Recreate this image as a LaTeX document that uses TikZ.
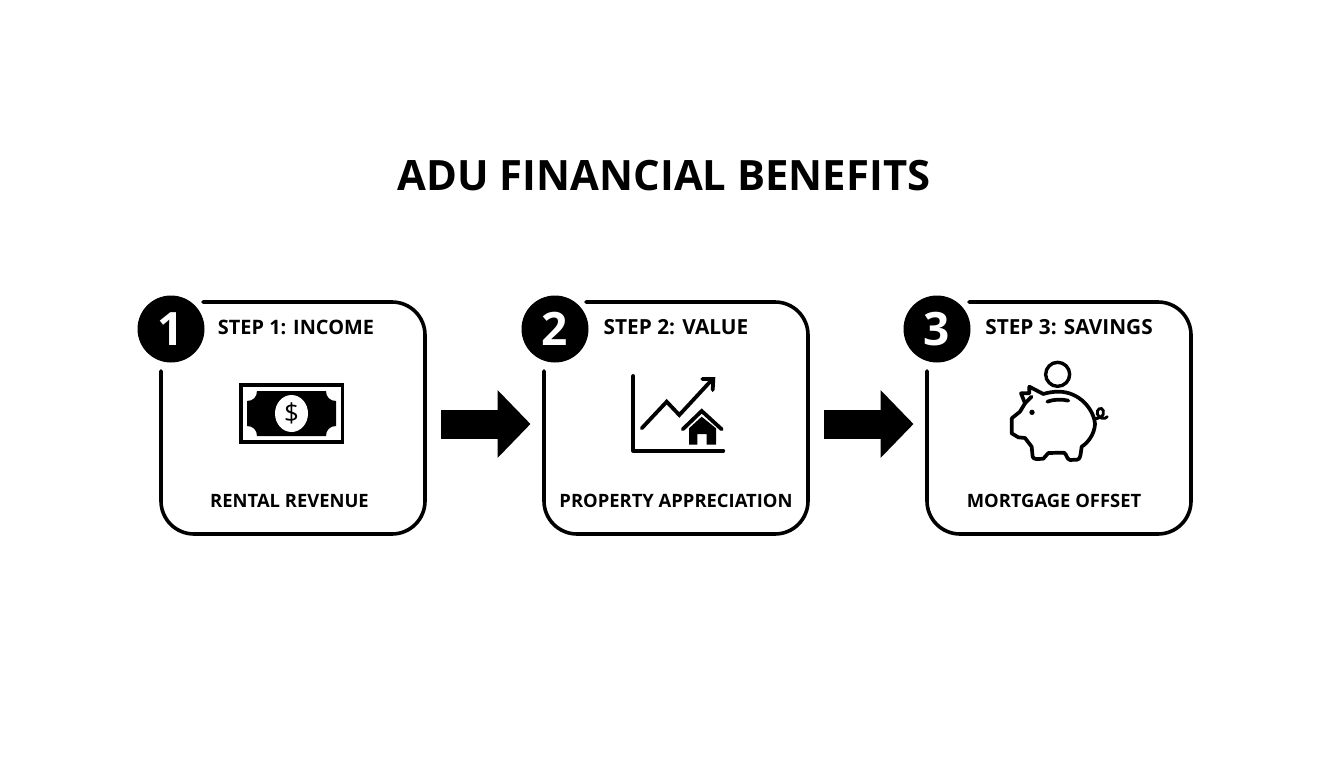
\documentclass[tikz,border=0pt]{standalone}
\usepackage{fontspec}
\setmainfont{Open Sans}
\usetikzlibrary{arrows.meta}
\tikzset{
  cardline/.style={line width=3.6pt,line cap=round,black,rounded corners=33pt},
  badge/.style={circle,fill=black,text=white,minimum size=67pt,inner sep=0pt,font=\fontsize{46}{46}\selectfont\bfseries},
  steptext/.style={font=\fontsize{20.8}{20.8}\selectfont\bfseries,inner sep=0pt,text=black},
  labeltext/.style={font=\fontsize{18.4}{18.4}\selectfont\bfseries,inner sep=0pt,text=black},
  titletext/.style={font=\fontsize{41.8}{41.8}\selectfont\bfseries,inner sep=0pt,text=black},
  blockarrow/.style={line width=29pt,black,-{Triangle[length=33pt,width=66pt]}},
  iconline/.style={line width=3.8pt,black,line cap=round},
  pigline/.style={line width=3.7pt,black,line cap=round,line join=round},
}
\newcommand{\cardpath}[1]{%
  \draw[cardline] (#1+42,302) -- (#1+264,302) -- (#1+264,534) -- (#1,534) -- (#1,371);}
\begin{document}
\begin{tikzpicture}[x=1pt,y=-1pt]
\useasboundingbox (0,0) rectangle (1344,768);
\fill[white] (0,0) rectangle (1344,768);
\node[titletext] (title) at (664,176) {ADU FINANCIAL BENEFITS};
% cards
\cardpath{161}\cardpath{544}\cardpath{927}
\node[badge] (b1) at (171,329) {1};
\node[badge] (b2) at (555,329) {2};
\node[badge] (b3) at (937,329) {3};
\node[steptext,font=\fontsize{19.9}{19.9}\selectfont\bfseries] (s1) at (296,327.5) {STEP 1: INCOME};
\node[steptext] (s2) at (676,327.5) {STEP 2: VALUE};
\node[steptext] (s3) at (1069,327.5) {STEP 3: SAVINGS};
\node[labeltext] (l1) at (289.5,500.5) {RENTAL REVENUE};
\node[labeltext] (l2) at (676,500.5) {PROPERTY APPRECIATION};
\node[labeltext] (l3) at (1054,500.5) {MORTGAGE OFFSET};
% arrows
\coordinate (a1s) at (441,424); \coordinate (a1e) at (530.5,424);
\coordinate (a2s) at (824,424); \coordinate (a2e) at (913.5,424);
\draw[blockarrow] (a1s) -- (a1e);
\draw[blockarrow] (a2s) -- (a2e);
% money icon
\draw[line width=3.4pt,black] (241,385) rectangle (342.5,442);
\fill[black] (257,391) -- (326,391) .. controls (326,397) and (330,401) .. (336,401) -- (336,426)
  .. controls (330,426) and (326,430) .. (326,436) -- (257,436)
  .. controls (257,430) and (253,426) .. (247,426) -- (247,401)
  .. controls (253,401) and (257,397) .. (257,391) -- cycle;
\fill[white] (291.5,413.5) ellipse[x radius=16.5,y radius=18.5];
\node[inner sep=0pt,font=\fontsize{26}{26}\selectfont] (dollar) at (291.5,413.5) {\$};
% chart icon
\draw[iconline,line join=round] (633.3,376) -- (633.3,450.7) -- (723.3,450.7);
\draw[iconline,line join=miter] (641.7,428.3) -- (666.7,401.7) -- (679.3,415) -- (711.7,380);
\draw[iconline,line join=miter] (702.3,379) -- (713.3,379) -- (712.7,390);
\draw[iconline,line join=miter] (682.7,429.3) -- (701.7,411) -- (721.7,429.3);
\fill[black] (689,428.3) -- (701.7,416.7) -- (716,428.3) -- (716,444.7) -- (706.7,444.7) -- (706.7,434) -- (697.3,434) -- (697.3,444.7) -- (689,444.7) -- cycle;
% piggy icon
\begin{scope}[shift={(990,350)},x=0.3333pt,y=-0.3333pt]
\draw[line width=3.4pt,black] (203,73) circle[radius=36];
\draw[pigline]
  (65,205) -- (65,250) -- (85,262) -- (105,264) -- (125,290) -- (128,320) .. controls (130,328) and (140,328) .. (160,326)
  .. controls (168,322) and (168,312) .. (175,309) -- (222,308) .. controls (230,312) and (230,328) .. (240,330)
  -- (262,329) .. controls (272,328) and (272,310) .. (275,290) .. controls (295,278) and (314,250) .. (315,222)
  .. controls (312,180) and (270,125) .. (205,125) .. controls (190,125) and (172,128) .. (160,132)
  -- (118,110) -- (118,130) -- (93,130) -- (105,160) -- (90,185) -- (65,205);
\draw[pigline] (105,160) -- (125,140);
\draw[pigline] (172,155) .. controls (190,148) and (215,147) .. (235,152);
\fill[black] (126,187) circle[radius=8];
\draw[line width=2.8pt,black,line cap=round] (312,205) .. controls (325,208) and (345,200) .. (340,182)
  .. controls (335,168) and (318,178) .. (322,192) .. controls (326,205) and (345,210) .. (352,200);
\end{scope}
\end{tikzpicture}
\end{document}
